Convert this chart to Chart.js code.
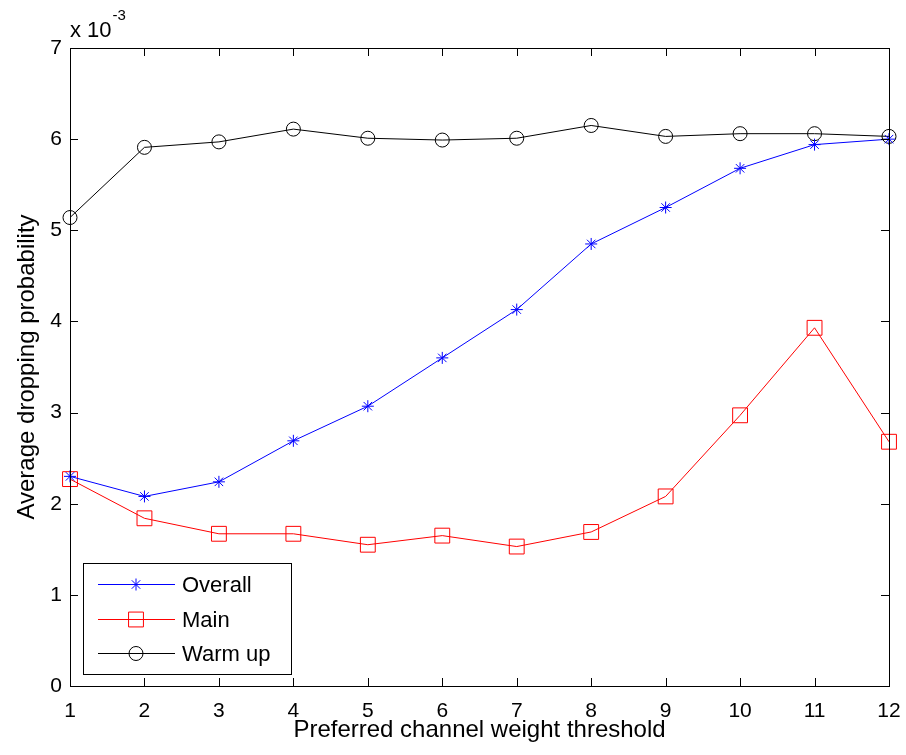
<!DOCTYPE html>
<html>
<head>
<meta charset="utf-8">
<script src="https://cdn.jsdelivr.net/npm/chart.js@4.4.0/dist/chart.umd.min.js"></script>
<style>
  html, body { margin: 0; padding: 0; background: #fff; }
  #wrap { width: 906px; height: 755px; position: relative; }
</style>
</head>
<body>
<div id="wrap"><canvas id="dropChart"></canvas></div>
<script>
// valori (unità: 1e-3)
const thresholds = [1, 2, 3, 4, 5, 6, 7, 8, 9, 10, 11, 12];
const overall = [2.30, 2.08, 2.24, 2.69, 3.07, 3.60, 4.13, 4.85, 5.25, 5.68, 5.94, 6.00];
const mainSeries = [2.27, 1.84, 1.67, 1.67, 1.55, 1.65, 1.53, 1.69, 2.08, 2.97, 3.93, 2.68];
const warmUp = [5.14, 5.91, 5.97, 6.11, 6.01, 5.99, 6.01, 6.15, 6.03, 6.06, 6.06, 6.03];
const yTicks = [0, 1, 2, 3, 4, 5, 6, 7];
const seriesLabels = ['Overall', 'Main', 'Warm up'];

const FONT = "'Liberation Sans', Arial, Helvetica, sans-serif";

function toPoints(vals) {
    return thresholds.map((t, i) => ({ x: t, y: vals[i] }));
}

// disegna un marker in stile MATLAB
function drawMarker(ctx, style, x, y, r, color) {
    ctx.save();
    ctx.strokeStyle = color;
    ctx.lineWidth = 1;
    ctx.beginPath();
    if (style === 'star') {
        const d = r * Math.SQRT1_2;
        ctx.moveTo(x - r, y); ctx.lineTo(x + r, y);
        ctx.moveTo(x, y - r); ctx.lineTo(x, y + r);
        ctx.moveTo(x - d, y - d); ctx.lineTo(x + d, y + d);
        ctx.moveTo(x - d, y + d); ctx.lineTo(x + d, y - d);
    } else if (style === 'rect') {
        const s = r * Math.SQRT1_2;
        ctx.rect(x - s, y - s, 2 * s, 2 * s);
    } else {
        ctx.arc(x, y, r, 0, Math.PI * 2);
    }
    ctx.stroke();
    ctx.restore();
}

// box degli assi + tacche interne su tutti i lati
const axesBox = {
    id: 'axesBox',
    afterDatasetsDraw(chart) {
        const { ctx, chartArea: a, scales } = chart;
        const tl = 8;
        ctx.save();
        ctx.strokeStyle = '#000';
        ctx.lineWidth = 1;
        ctx.beginPath();
        scales.x.ticks.forEach(t => {
            const px = Math.round(scales.x.getPixelForValue(t.value)) + 0.5;
            ctx.moveTo(px, a.bottom); ctx.lineTo(px, a.bottom - tl);
            ctx.moveTo(px, a.top); ctx.lineTo(px, a.top + tl);
        });
        scales.y.ticks.forEach(t => {
            const py = Math.round(scales.y.getPixelForValue(t.value)) + 0.5;
            ctx.moveTo(a.left, py); ctx.lineTo(a.left + tl, py);
            ctx.moveTo(a.right, py); ctx.lineTo(a.right - tl, py);
        });
        ctx.stroke();
        ctx.strokeRect(Math.round(a.left) + 0.5, Math.round(a.top) + 0.5,
            Math.round(a.right - a.left), Math.round(a.bottom - a.top));

        // moltiplicatore dell'asse y
        ctx.fillStyle = '#000';
        ctx.textBaseline = 'alphabetic';
        ctx.textAlign = 'left';
        ctx.font = '22px ' + FONT;
        ctx.fillText('x 10', a.left, a.top - 11);
        const w = ctx.measureText('x 10').width;
        ctx.font = '15px ' + FONT;
        ctx.fillText('-3', a.left + w + 1, a.top - 28);
        ctx.restore();
    }
};

// legenda in basso a sinistra, dentro l'area del grafico
const boxLegend = {
    id: 'boxLegend',
    afterDraw(chart) {
        const { ctx, chartArea: a } = chart;
        const x0 = a.left + 13, y0 = a.bottom - 123, w = 208, h = 111;
        ctx.save();
        ctx.fillStyle = '#fff';
        ctx.fillRect(x0, y0, w, h);
        ctx.strokeStyle = '#000';
        ctx.lineWidth = 1;
        ctx.strokeRect(x0 + 0.5, y0 + 0.5, w, h);
        ctx.font = '22px ' + FONT;
        ctx.textBaseline = 'middle';
        ctx.textAlign = 'left';
        chart.data.datasets.forEach((ds, i) => {
            const cy = Math.round(y0 + 21 + i * 34.5) + 0.5;
            ctx.strokeStyle = ds.borderColor;
            ctx.beginPath();
            ctx.moveTo(x0 + 15, cy);
            ctx.lineTo(x0 + 92, cy);
            ctx.stroke();
            drawMarker(ctx, ds.pointStyle, x0 + 53, cy, ds.pointRadius, ds.borderColor);
            ctx.fillStyle = '#000';
            ctx.fillText(ds.label, x0 + 99, cy + 1);
        });
        ctx.restore();
    }
};

const colors = ['#0000FF', '#FF0000', '#000000'];
const styles = ['star', 'rect', 'circle'];
const radii = [6, 10.5, 7];
const values = [overall, mainSeries, warmUp];

new Chart(document.getElementById('dropChart'), {
    type: 'line',
    data: {
        datasets: values.map((v, i) => ({
            label: seriesLabels[i],
            data: toPoints(v),
            borderColor: colors[i],
            backgroundColor: 'transparent',
            borderWidth: 1,
            pointStyle: styles[i],
            pointRadius: radii[i],
            pointBorderWidth: 1,
            pointBorderColor: colors[i],
            pointBackgroundColor: 'transparent',
            tension: 0,
            clip: false
        }))
    },
    options: {
        responsive: true,
        maintainAspectRatio: false,
        animation: false,
        layout: { padding: { left: 0, right: 17, top: 48, bottom: 0 } },
        plugins: {
            legend: { display: false },
            tooltip: { enabled: false }
        },
        scales: {
            x: {
                type: 'linear',
                min: 1,
                max: 12,
                grid: { display: false, drawTicks: false },
                border: { display: false },
                ticks: {
                    stepSize: 1,
                    color: '#000',
                    padding: 13,
                    maxRotation: 0,
                    font: { family: FONT, size: 21 }
                },
                title: {
                    display: true,
                    text: 'Preferred channel weight threshold',
                    color: '#000',
                    font: { family: FONT, size: 24 },
                    padding: { top: 0, bottom: 10 }
                },
                afterFit(scale) {
                    scale.height = 69;
                    scale.paddingLeft = 0;
                    scale.paddingRight = 0;
                }
            },
            y: {
                min: 0,
                max: 7,
                grid: { display: false, drawTicks: false },
                border: { display: false },
                afterBuildTicks(scale) {
                    scale.ticks = yTicks.map(v => ({ value: v }));
                },
                ticks: {
                    color: '#000',
                    padding: 8,
                    font: { family: FONT, size: 21 }
                },
                title: {
                    display: true,
                    text: 'Average dropping probability',
                    color: '#000',
                    font: { family: FONT, size: 24 },
                    padding: { top: 13, bottom: 0 }
                },
                afterFit(scale) {
                    scale.width = 70;
                    scale.paddingTop = 0;
                    scale.paddingBottom = 0;
                }
            }
        }
    },
    plugins: [axesBox, boxLegend]
});
</script>
</body>
</html>
